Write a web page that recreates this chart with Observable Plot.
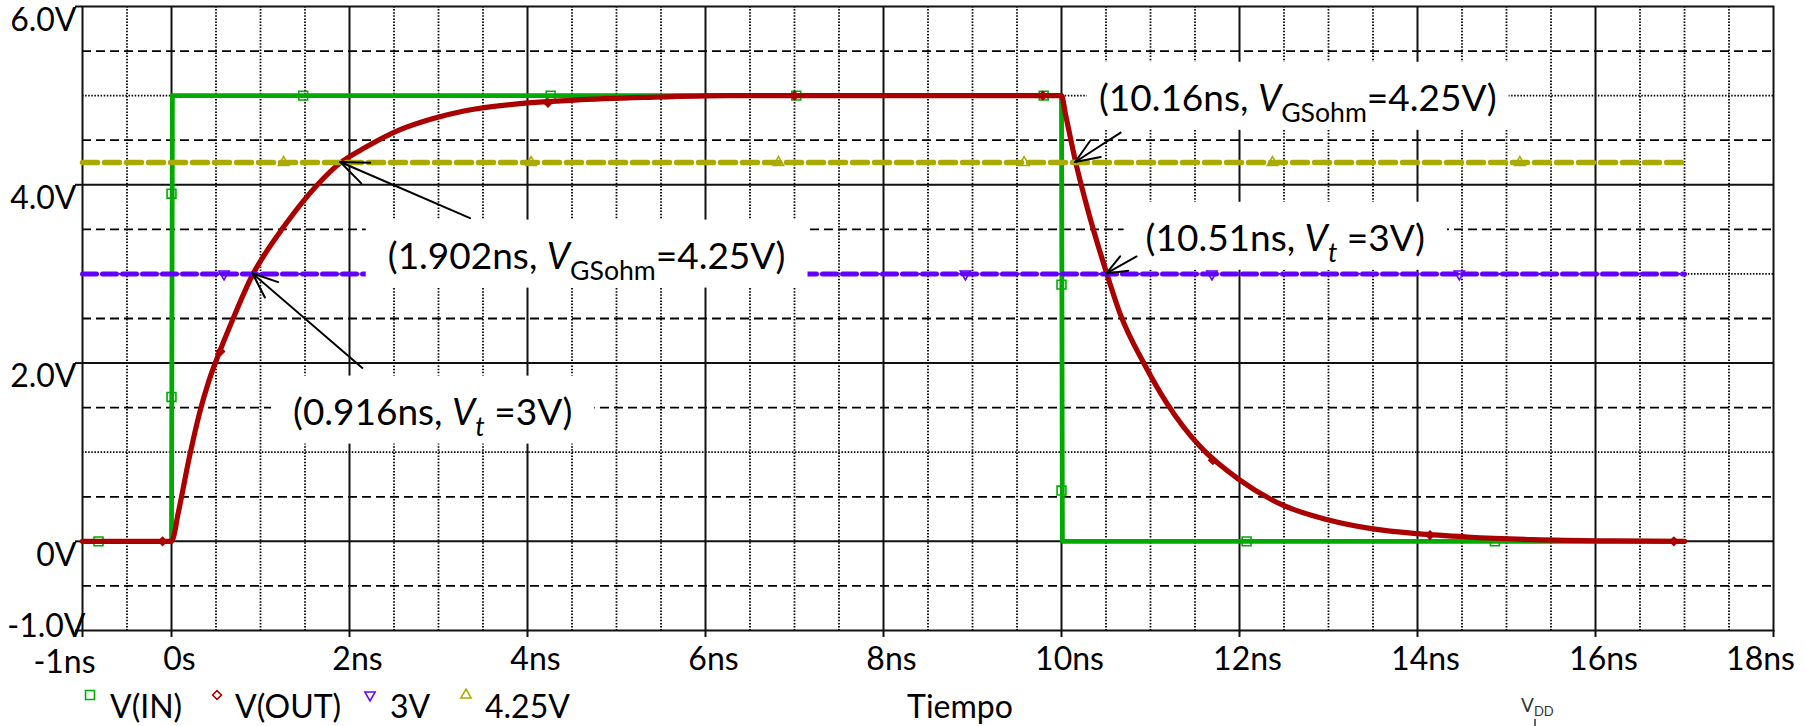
<!DOCTYPE html>
<html>
<head>
<meta charset="utf-8">
<script src="https://cdn.jsdelivr.net/npm/d3@7"></script>
<script src="https://cdn.jsdelivr.net/npm/@observablehq/plot@0.6"></script>
<style>
  html, body { margin: 0; padding: 0; background: #fff; }
  #chart { width: 1806px; height: 726px; overflow: hidden; }
</style>
</head>
<body>
<div id="chart"></div>
<script>
// ---------------- data ----------------
const xTickValues = [-1, 0, 2, 4, 6, 8, 10, 12, 14, 16, 18];
const xTickLabels = ["-1ns", "0s", "2ns", "4ns", "6ns", "8ns", "10ns", "12ns", "14ns", "16ns", "18ns"];
const yTickValues = [-1, 0, 2, 4, 6];
const yTickLabels = ["-1.0V", "0V", "2.0V", "4.0V", "6.0V"];

// V(IN)
const vinTime = [-1, 0, 0.01, 10, 10.01, 17];
const vinVolt = [0, 0, 5, 5, 0, 0];
// V(OUT)
const voutTime = [-1, 0, 0.08, 0.2, 0.31, 0.42, 0.53, 0.68, 0.916, 1.06, 1.24, 1.5, 1.902, 2.18, 2.55, 2.93, 3.3, 3.91, 4.53, 5.33, 6.26, 7, 8, 9, 10,
                  10.045, 10.16, 10.29, 10.51, 10.66, 10.93, 11.19, 11.56, 12, 12.5, 13, 13.5, 14, 14.56, 15.3, 16.2, 17];
const voutVolt = [0, 0, 0.34, 0.94, 1.42, 1.8, 2.1, 2.47, 3, 3.24, 3.5, 3.84, 4.25, 4.42, 4.61, 4.74, 4.83, 4.91, 4.95, 4.98, 5, 5, 5, 5, 5,
                  4.79, 4.25, 3.74, 3, 2.55, 1.99, 1.54, 1.06, 0.69, 0.4, 0.24, 0.14, 0.086, 0.049, 0.02, 0.005, 0];
// reference levels
const ref3Time = [-1, 17];
const ref3Volt = [3, 3];
const ref425Time = [-1, 17];
const ref425Volt = [4.25, 4.25];

// trace markers
const vinMarkT = [-0.82, 0, 0, 1.48, 4.26, 7.02, 9.8, 10, 10, 12.08, 14.87];
const vinMarkV = [0, 1.62, 3.9, 5, 5, 5, 5, 2.88, 0.57, 0, 0];
const voutMarkT = [-0.1, 0.55, 4.23, 7.0, 9.79, 11.7, 14.14, 16.88];
const voutMarkV = [0, 2.13, 4.92, 5, 5, 0.91, 0.07, 0];
const ref3MarkT = [0.59, 3.37, 6.14, 8.92, 11.69, 14.47];
const ref425MarkT = [1.26, 4.04, 6.82, 9.58, 12.37, 15.15];

// annotated points
const annotT = [0.916, 1.902, 10.16, 10.51];
const annotV = [3, 4.25, 4.25, 3];
const annotText = [
  [["(0.916ns, ", "n"], ["V", "i"], ["t", "si"], [" =3V)", "n"]],
  [["(1.902ns, ", "n"], ["V", "i"], ["GSohm", "s"], ["=4.25V)", "n"]],
  [["(10.16ns, ", "n"], ["V", "i"], ["GSohm", "s"], ["=4.25V)", "n"]],
  [["(10.51ns, ", "n"], ["V", "i"], ["t", "si"], [" =3V)", "n"]]
];
// annotation layout (label centre and arrow tail, in data units)
const annotLabelAt = [[2.94, 1.45], [4.67, 3.20], [12.66, 4.97], [12.52, 3.40]];
const annotTailAt = [[2.15, 1.94], [3.36, 3.62], [10.67, 4.58], [10.85, 3.19]];
const annotPad = [22, 22, 12, 22];
const annotWing = [27, 30, 26, 22];

const legendItems = ["V(IN)", "V(OUT)", "3V", "4.25V"];
const xAxisTitle = "Tiempo";

// ---------------- tables ----------------
const zipTV = (T, V) => T.map((t, i) => ({t, v: V[i]}));
const vin = zipTV(vinTime, vinVolt);
const vout = zipTV(voutTime, voutVolt);
const ref3 = zipTV(ref3Time, ref3Volt);
const ref425 = zipTV(ref425Time, ref425Volt);
const vinMarks = zipTV(vinMarkT, vinMarkV);
const voutMarks = zipTV(voutMarkT, voutMarkV);
const ref3Marks = ref3MarkT.map(t => ({t, v: 3}));
const ref425Marks = ref425MarkT.map(t => ({t, v: 4.25}));
const xTickRows = xTickValues.map((v, i) => ({v, label: xTickLabels[i]}));
const yTickRows = yTickValues.map((v, i) => ({v, label: yTickLabels[i]}));

// grid
const xMajor = d3.range(0, 18, 2);
const xMinor = d3.range(-0.5, 18, 0.5).filter(d => Math.abs(d % 2) > 1e-9);
const ySolid = [0, 2, 4];
const yDot = [1, 3, 5];
const yDash = d3.range(-0.5, 6, 1);

const GREEN = "#00aa00", RED = "#aa0000", PURPLE = "#6400ff", OLIVE = "#aaaa00";
const FONT = "Lato, 'Open Sans', sans-serif";

const plot = Plot.plot({
  width: 1806,
  height: 726,
  marginLeft: 82,
  marginRight: 33,
  marginTop: 6,
  marginBottom: 96,
  x: {domain: [-1, 18], label: null},
  y: {domain: [-1, 6], label: null},
  style: {fontFamily: FONT, background: "white", color: "black"},
  marks: [
    Plot.ruleY(yDash, {stroke: "black", strokeWidth: 1.8, strokeDasharray: "9,5"}),
    Plot.ruleY(yDot, {stroke: "black", strokeWidth: 1.8, strokeDasharray: "1.5,1.6"}),
    Plot.ruleX(xMinor, {stroke: "black", strokeWidth: 1.8, strokeDasharray: "1.5,1.6"}),
    Plot.ruleX(xMajor, {stroke: "#111", strokeWidth: 2}),
    Plot.ruleY(ySolid, {stroke: "#111", strokeWidth: 2}),
    Plot.frame({stroke: "#111", strokeWidth: 2}),
    Plot.axisX({ticks: xTickValues, tickSize: 7, tickFormat: () => "", label: null, stroke: "#111", strokeWidth: 2}),
    Plot.axisY({ticks: yTickValues, tickSize: 7, tickFormat: () => "", label: null, stroke: "#111", strokeWidth: 2}),

    // traces
    Plot.line(vin, {x: "t", y: "v", stroke: GREEN, strokeWidth: 4.8}),
    Plot.dot(vinMarks, {x: "t", y: "v", symbol: "square", r: 5, stroke: GREEN, strokeWidth: 1.6, fill: "none"}),
    Plot.line(vout, {x: "t", y: "v", stroke: RED, strokeWidth: 5.2, curve: "monotone-x"}),
    Plot.dot(voutMarks, {x: "t", y: "v", symbol: "diamond2", r: 3.6, stroke: RED, strokeWidth: 1.6, fill: RED}),
    Plot.line(ref3, {x: "t", y: "v", stroke: PURPLE, strokeWidth: 5, strokeDasharray: "14,6"}),
    Plot.dot(ref3Marks, {x: "t", y: "v", symbol: "triangle", rotate: 180, r: 3.8, stroke: PURPLE, strokeWidth: 1.6, fill: "none"}),
    Plot.line(ref425, {x: "t", y: "v", stroke: OLIVE, strokeWidth: 5.5, strokeDasharray: "15,7"}),
    Plot.dot(ref425Marks, {x: "t", y: "v", symbol: "triangle", r: 3.8, stroke: OLIVE, strokeWidth: 1.6, fill: "none"}),

    // tick labels
    Plot.text(xTickRows.slice(1, -1), {x: "v", text: "label", frameAnchor: "bottom", dy: 39, dx: 8, fontSize: 32, fill: "black"}),
    Plot.text(xTickRows.slice(0, 1), {x: "v", text: "label", frameAnchor: "bottom", dy: 42, dx: -18, fontSize: 32, fill: "black"}),
    Plot.text(xTickRows.slice(-1), {x: "v", text: "label", frameAnchor: "bottom", dy: 39, dx: -13, fontSize: 32, fill: "black"}),
    Plot.text(yTickRows.slice(1), {y: "v", text: "label", frameAnchor: "left", textAnchor: "end", dx: -6, dy: 14, fontSize: 32, fill: "black"}),
    Plot.text(yTickRows.slice(0, 1), {y: "v", text: "label", frameAnchor: "left", textAnchor: "end", dx: 3, dy: -4, fontSize: 32, fill: "black"})
  ]
});
document.getElementById("chart").append(plot);

// ---------------- annotations (boxes, rich text, arrows) ----------------
const svg = d3.select(plot);
const X = plot.scale("x"), Y = plot.scale("y");
const ann = svg.append("g").attr("font-family", FONT).attr("font-size", 37).attr("fill", "black");
const SUB = 0.72, SUBDY = 11;

annotT.forEach((t, k) => {
  const g = ann.append("g");
  const cx = X.apply(annotLabelAt[k][0]);
  const cy = Y.apply(annotLabelAt[k][1]);
  const text = g.append("text")
    .attr("x", cx).attr("y", cy + 13)
    .attr("text-anchor", "middle")
    .style("white-space", "pre");
  let shifted = false;
  for (const [s, kind] of annotText[k]) {
    const ts = text.append("tspan").text(s);
    const isSub = kind === "s" || kind === "si";
    if (kind === "i" || kind === "si") ts.attr("font-style", "italic");
    if (isSub) {
      ts.attr("font-size", 37 * SUB);
      if (!shifted) { ts.attr("dy", SUBDY); shifted = true; }
    } else if (shifted) {
      ts.attr("dy", -SUBDY); shifted = false;
    }
  }
  const bb = text.node().getBBox();
  g.insert("rect", "text")
    .attr("x", bb.x - annotPad[k]).attr("width", bb.width + 2 * annotPad[k])
    .attr("y", cy - 36).attr("height", 68)
    .attr("fill", "white");
});

// arrows
const arrows = svg.append("g").attr("stroke", "black").attr("stroke-width", 2).attr("stroke-linecap", "round");
annotT.forEach((t, k) => {
  const x2 = X.apply(t), y2 = Y.apply(annotV[k]);
  const x1 = X.apply(annotTailAt[k][0]), y1 = Y.apply(annotTailAt[k][1]);
  arrows.append("line").attr("x1", x1).attr("y1", y1).attr("x2", x2).attr("y2", y2);
  const a = Math.atan2(y1 - y2, x1 - x2);
  const w = annotWing[k], half = 22 * Math.PI / 180;
  for (const s of [-1, 1]) {
    const b = a + s * half;
    arrows.append("line").attr("x1", x2).attr("y1", y2)
      .attr("x2", x2 + w * Math.cos(b)).attr("y2", y2 + w * Math.sin(b));
  }
});

// ---------------- legend & axis title (below plot area) ----------------
const leg = svg.append("g").attr("font-family", FONT).attr("font-size", 32).attr("fill", "black").attr("text-anchor", "start");
const legSymbols = [
  {sym: d3.symbolSquare, size: 80, color: GREEN, rot: 0},
  {sym: d3.symbolDiamond2, size: 50, color: RED, rot: 0},
  {sym: d3.symbolTriangle, size: 45, color: PURPLE, rot: 180},
  {sym: d3.symbolTriangle, size: 45, color: OLIVE, rot: 0}
];
const legMarkX = [90, 217, 370, 466];
const legTextX = [110, 235, 390, 485];
legendItems.forEach((name, i) => {
  const s = legSymbols[i];
  leg.append("path")
    .attr("d", d3.symbol(s.sym, s.size)())
    .attr("transform", `translate(${legMarkX[i]},695) rotate(${s.rot})`)
    .attr("fill", "none").attr("stroke", s.color).attr("stroke-width", 1.6);
  leg.append("text").attr("x", legTextX[i]).attr("y", 718).attr("text-anchor", "start").text(name);
});
leg.append("text").attr("x", 960).attr("y", 718).attr("text-anchor", "middle").text(xAxisTitle);

const vdd = svg.append("g").attr("font-family", FONT).attr("fill", "#333").attr("text-anchor", "start");
const vt = vdd.append("text").attr("x", 1521).attr("y", 712).attr("font-size", 19).attr("text-anchor", "start");
vt.append("tspan").text("V");
vt.append("tspan").attr("font-size", 13).attr("dy", 4).text("DD");
vdd.append("line").attr("x1", 1535).attr("x2", 1535).attr("y1", 719).attr("y2", 726).attr("stroke", "#333").attr("stroke-width", 1.5);
</script>
</body>
</html>
